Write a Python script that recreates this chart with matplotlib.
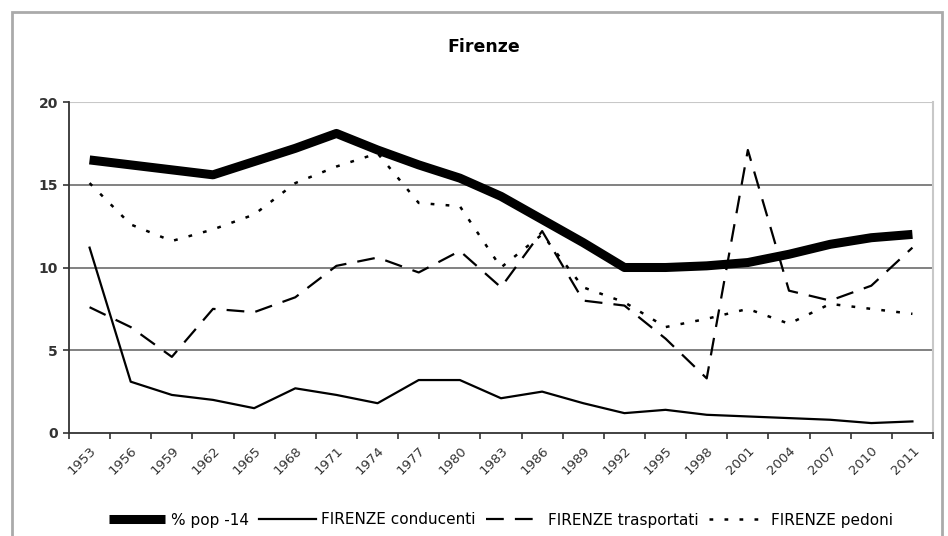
import numpy as np
import matplotlib.pyplot as plt
from matplotlib.patches import Rectangle

# ── Dati ─────────────────────────────────────────────────────────────────────
anni = ['1953', '1956', '1959', '1962', '1965', '1968', '1971', '1974', '1977',
        '1980', '1983', '1986', '1989', '1992', '1995', '1998', '2001', '2004',
        '2007', '2010', '2011']

pop14 = [16.5, 16.2, 15.9, 15.6, 16.4, 17.2, 18.1, 17.1, 16.2, 15.4, 14.3,
         12.9, 11.5, 10.0, 10.0, 10.1, 10.3, 10.8, 11.4, 11.8, 12.0]
conducenti = [11.2, 3.1, 2.3, 2.0, 1.5, 2.7, 2.3, 1.8, 3.2, 3.2, 2.1, 2.5,
              1.8, 1.2, 1.4, 1.1, 1.0, 0.9, 0.8, 0.6, 0.7]
trasportati = [7.6, 6.4, 4.6, 7.5, 7.3, 8.2, 10.1, 10.6, 9.7, 11.0, 8.8, 12.2,
               8.0, 7.7, 5.7, 3.3, 17.1, 8.6, 8.0, 8.9, 11.2]
pedoni = [15.1, 12.6, 11.6, 12.3, 13.2, 15.1, 16.1, 16.9, 13.9, 13.7, 10.0,
          12.0, 8.8, 7.9, 6.4, 6.9, 7.5, 6.6, 7.8, 7.5, 7.2]

# ── Figura ───────────────────────────────────────────────────────────────────
W, H = 948, 536
fig = plt.figure(figsize=(W / 100, H / 100), dpi=100)

# cornice grigia esterna
fig.patches.append(Rectangle((12 / W, -0.05), (942 - 12) / W, 1 - 12 / H + 0.05,
                             transform=fig.transFigure, fill=False,
                             edgecolor='#aaaaaa', linewidth=2))

ax = fig.add_axes([69 / W, 1 - 433 / H, (933 - 69) / W, (433 - 102) / H])

x = np.arange(len(anni))
l1, = ax.plot(x, pop14, color='black', linewidth=6.5, solid_capstyle='butt',
              label='% pop -14', zorder=4)
l2, = ax.plot(x, conducenti, color='black', linewidth=1.6,
              label='FIRENZE conducenti', zorder=3)
l3, = ax.plot(x, trasportati, color='black', linewidth=1.6, dashes=(8, 5),
              label='FIRENZE trasportati', zorder=3)
l4, = ax.plot(x, pedoni, color='black', linewidth=1.8, dashes=(1.5, 4.5),
              label='FIRENZE pedoni', zorder=3)

ax.set_xlim(-0.5, len(anni) - 0.5)
ax.set_ylim(0, 20)

# griglia orizzontale
for yv in (5, 10, 15):
    ax.axhline(yv, color='#777777', linewidth=1.3, zorder=1)
ax.axhline(20, color='#c8c8c8', linewidth=1.5, zorder=1)

ax.set_yticks([0, 5, 10, 15, 20])
ax.tick_params(axis='y', direction='out', length=4, width=1.2, colors='#333333',
               labelsize=10, pad=4)
for t in ax.get_yticklabels():
    t.set_fontweight('bold')

ax.set_xticks(x)
ax.set_xticklabels(anni, rotation=45, ha='right', rotation_mode='anchor',
                   fontsize=9.5, color='#333333')
ax.tick_params(axis='x', which='major', length=0, pad=8)
ax.set_xticks(np.arange(-0.5, len(anni)), minor=True)
ax.tick_params(axis='x', which='minor', direction='out', length=4, width=1.2,
               color='#333333')

ax.spines['top'].set_visible(False)
ax.spines['right'].set_color('#c8c8c8')
ax.spines['right'].set_linewidth(1.5)
ax.spines['left'].set_color('#333333')
ax.spines['left'].set_linewidth(1.3)
ax.spines['bottom'].set_color('#333333')
ax.spines['bottom'].set_linewidth(1.3)

fig.text(484 / W, 1 - 47 / H, 'Firenze', ha='center', va='center',
         fontsize=12.5, fontweight='bold')

fig.legend(handles=[l1, l2, l3, l4], loc='center', ncol=4,
           bbox_to_anchor=(501 / W, 1 - 520 / H), frameon=False,
           fontsize=11, handlelength=3.7, handletextpad=0.35,
           columnspacing=0.7)

fig.savefig('out.png', dpi=100)
